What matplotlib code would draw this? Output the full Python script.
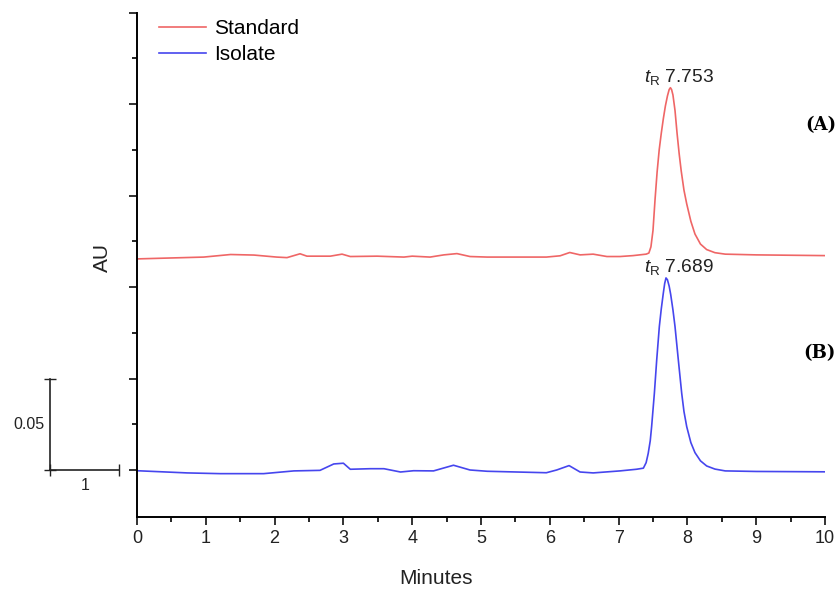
import numpy as np
import matplotlib.pyplot as plt

plt.rcParams["font.family"] = ["Liberation Sans", "DejaVu Sans"]
plt.rcParams["mathtext.fontset"] = "custom"
plt.rcParams["mathtext.it"] = "Liberation Sans:italic"
plt.rcParams["mathtext.rm"] = "Liberation Sans"

# retention time (min) and absorbance (AU)
std_time = [0.00, 0.97, 1.36, 1.70, 2.03, 2.18, 2.37, 2.47, 2.81, 2.98, 3.10, 3.49,
            3.88, 4.00, 4.26, 4.46, 4.65, 4.84, 5.09, 5.95, 6.15, 6.29, 6.44, 6.63,
            6.83, 7.02, 7.21, 7.40, 7.44, 7.47, 7.50, 7.53, 7.56, 7.59, 7.62, 7.65,
            7.68, 7.71, 7.735, 7.753, 7.77, 7.79, 7.82, 7.85, 7.88, 7.91, 7.95, 7.99,
            8.05, 8.11, 8.19, 8.28, 8.40, 8.55, 9.00, 9.50, 10.00]
std_au = [0.1154, 0.1164, 0.1178, 0.1175, 0.1164, 0.1161, 0.1182, 0.1169, 0.1169, 0.1180, 0.1167, 0.1169,
          0.1164, 0.1169, 0.1164, 0.1176, 0.1183, 0.1167, 0.1164, 0.1164, 0.1171, 0.1189, 0.1176, 0.1180,
          0.1167, 0.1167, 0.1172, 0.1180, 0.1186, 0.1220, 0.1310, 0.1480, 0.1630, 0.1750, 0.1840, 0.1920,
          0.1990, 0.2045, 0.2080, 0.2090, 0.2080, 0.2050, 0.1965, 0.1840, 0.1730, 0.1635, 0.1530, 0.1455,
          0.1360, 0.1290, 0.1235, 0.1205, 0.1188, 0.1180, 0.1176, 0.1174, 0.1172]

iso_time = [0.00, 0.73, 1.21, 1.84, 2.28, 2.66, 2.86, 3.00, 3.10, 3.39, 3.59, 3.83,
            4.02, 4.31, 4.60, 4.84, 5.09, 5.95, 6.10, 6.28, 6.44, 6.63, 7.02, 7.26,
            7.36, 7.40, 7.43, 7.46, 7.48, 7.52, 7.554, 7.592, 7.62, 7.65, 7.67, 7.689,
            7.71, 7.735, 7.757, 7.79, 7.82, 7.868, 7.917, 7.95, 7.99, 8.05, 8.11, 8.19,
            8.28, 8.40, 8.55, 9.00, 9.50, 10.00]
iso_au = [-0.0004, -0.0016, -0.0020, -0.0020, -0.0005, -0.0002, 0.0033, 0.0037, 0.0004, 0.0007, 0.0007, -0.0011,
          -0.0004, -0.0005, 0.0026, 0.0000, -0.0007, -0.0015, 0.0000, 0.0024, -0.0011, -0.0016, -0.0005, 0.0004,
          0.0010, 0.0040, 0.0090, 0.0160, 0.0237, 0.0420, 0.0602, 0.0784, 0.0880, 0.0967, 0.1020, 0.1050,
          0.1040, 0.1005, 0.0960, 0.0875, 0.0784, 0.0602, 0.0420, 0.0320, 0.0237, 0.0150, 0.0095, 0.0050,
          0.0022, 0.0005, -0.0005, -0.0008, -0.0009, -0.0010]

peak_labels = ["7.753", "7.689"]
trace_labels = ["Standard", "Isolate"]

red = "#ef6666"
blue = "#4646ee"
ink = "#222222"

fig = plt.figure(figsize=(8.39, 5.92), dpi=100)
ax = fig.add_axes([137 / 839, 1 - 517 / 592, 688 / 839, 504.3 / 592])

ax.plot(std_time, std_au, color=red, lw=1.2, label=trace_labels[0])
ax.plot(iso_time, iso_au, color=blue, lw=1.2, label=trace_labels[1])

ax.set_xlim(0, 10)
ax.set_ylim(-0.0257, 0.25)
ax.set_xticks(np.arange(0, 11, 1))
ax.set_xticks(np.arange(0.5, 10, 1), minor=True)
ax.set_yticks(np.arange(0, 0.26, 0.05))
ax.set_yticks(np.arange(0.025, 0.25, 0.05), minor=True)
ax.set_yticklabels([])
ax.spines["top"].set_visible(False)
ax.spines["right"].set_visible(False)
ax.spines["left"].set_linewidth(1.4)
ax.spines["bottom"].set_linewidth(1.4)
ax.tick_params(which="major", direction="out", length=6, width=1.3, labelsize=13, colors=ink)
ax.tick_params(which="minor", direction="out", length=3.5, width=1.2)

ax.set_xlabel("Minutes", fontsize=15, color=ink)
ax.set_ylabel("AU", fontsize=15, color=ink)
ax.xaxis.set_label_coords(0.4346, -0.104)
ax.yaxis.set_label_coords(-0.036, 0.5136)

# retention time labels
ax.text(7.88, 0.2093, r"$t_\mathregular{R}$ " + peak_labels[0], ha="center", va="bottom", fontsize=13.8, color=ink)
ax.text(7.87, 0.1053, r"$t_\mathregular{R}$ " + peak_labels[1], ha="center", va="bottom", fontsize=13.8, color=ink)

# panel tags
ax.text(10.16, 0.1887, "(A)", ha="right", va="center", fontsize=13, fontweight="bold",
        family="DejaVu Serif", clip_on=False)
ax.text(10.16, 0.064, "(B)", ha="right", va="center", fontsize=13, fontweight="bold",
        family="DejaVu Serif", clip_on=False)

# scale bar: 1 min by 0.05 AU
ax.plot([-1.265, -1.265], [0, 0.05], color=ink, lw=1.2, marker="_", ms=8, clip_on=False)
ax.plot([-1.265, -0.265], [0, 0], color=ink, lw=1.2, marker="|", ms=8, clip_on=False)
ax.text(-1.34, 0.025, "0.05", ha="right", va="center", fontsize=11.5, color=ink)
ax.text(-0.76, -0.0045, "1", ha="center", va="top", fontsize=11.5, color=ink)

ax.legend(loc="upper left", bbox_to_anchor=(0.005, 1.025), frameon=False, fontsize=15,
          handlelength=2.26, handletextpad=0.38, labelspacing=0.35)

fig.savefig("out.png", dpi=100)
